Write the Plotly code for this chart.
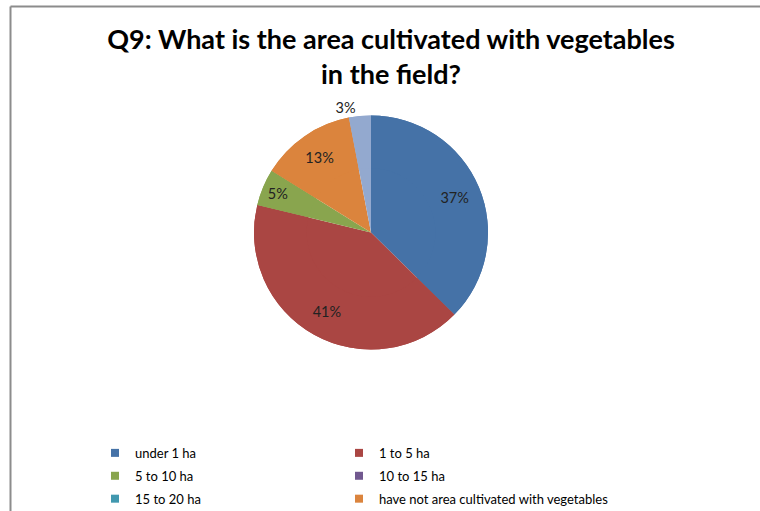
import plotly.graph_objects as go

categories = ["under 1 ha", "1 to 5 ha", "5 to 10 ha", "10 to 15 ha", "15 to 20 ha",
              "have not area cultivated with vegetables", "over 20 ha"]
values = [37, 41, 5, 0, 0, 13, 3]
colors = ["#4572A7", "#AA4643", "#89A54E", "#71588F", "#4198AF", "#DB843D", "#93A9CF"]
text_positions = ["inside", "inside", "inside", "none", "none", "inside", "outside"]
# legend column (Excel lays the legend out in two columns, row by row);
# the last entry falls below the visible chart area in the original
legend_column = [1, 2, 1, 2, 1, 2, 1]
legend_visible = [True, True, True, True, True, True, False]

W, H = 760, 511

pie_domain = dict(x=[(371 - 117) / W, (371 + 117) / W], y=[0.28, 0.81])
common = dict(
    labels=categories,
    values=values,
    sort=False,
    direction="clockwise",
    rotation=0,
    domain=pie_domain,
    showlegend=False,
)

fig = go.Figure()
# full pie underneath (fills the centre of the ring)
fig.add_trace(go.Pie(
    **common,
    marker=dict(colors=colors, line=dict(width=0)),
    textinfo="none",
    hoverinfo="skip",
))
# ring on top carries the labels, placed further out like the original
fig.add_trace(go.Pie(
    **common,
    hole=0.55,
    marker=dict(colors=colors, line=dict(width=0)),
    texttemplate="%{percent:.0%}",
    textposition=text_positions,
    insidetextorientation="horizontal",
    textfont=dict(family="Lato", size=14.5, color="#222"),
    hoverinfo="label+percent",
))

# legend entries (two legends = two columns)
for name, col, c, vis in zip(categories, legend_column, colors, legend_visible):
    fig.add_trace(go.Scatter(
        x=[None], y=[None], mode="markers", name=name,
        marker=dict(symbol="square", size=8, color=c),
        legend="legend" if col == 1 else "legend2",
        legendgroup=name, showlegend=vis, hoverinfo="skip",
    ))

legend_style = dict(
    orientation="v",
    xref="container", yref="container",
    xanchor="left", y=0.143, yanchor="top",
    font=dict(family="Lato", size=13, color="black"),
    tracegroupgap=3,
    maxheight=400,
    bgcolor="rgba(0,0,0,0)",
)

fig.update_layout(
    width=W, height=H,
    margin=dict(l=0, r=0, t=0, b=0, autoexpand=False),
    paper_bgcolor="white",
    plot_bgcolor="white",
    xaxis=dict(visible=False),
    yaxis=dict(visible=False),
    title=dict(
        text="<b>Q9: What is the area cultivated with vegetables<br>in the field?</b>",
        x=391 / W, xanchor="center", xref="container",
        y=0.905, yanchor="top", yref="container",
        font=dict(family="Lato", size=27, color="black"),
    ),
    legend=dict(**legend_style, x=95 / W),
    legend2=dict(**legend_style, x=339 / W),
    shapes=[
        dict(type="line", xref="paper", yref="paper", x0=10.5 / W, x1=1.0, y0=1 - 6.5 / H, y1=1 - 6.5 / H,
             line=dict(color="#8c8c8c", width=2)),
        dict(type="line", xref="paper", yref="paper", x0=10.5 / W, x1=10.5 / W, y0=1 - 6.5 / H, y1=0,
             line=dict(color="#8c8c8c", width=2)),
    ],
)

fig.write_html("out.html", config={"displayModeBar": False},
               post_script="document.body.style.margin='0';")
